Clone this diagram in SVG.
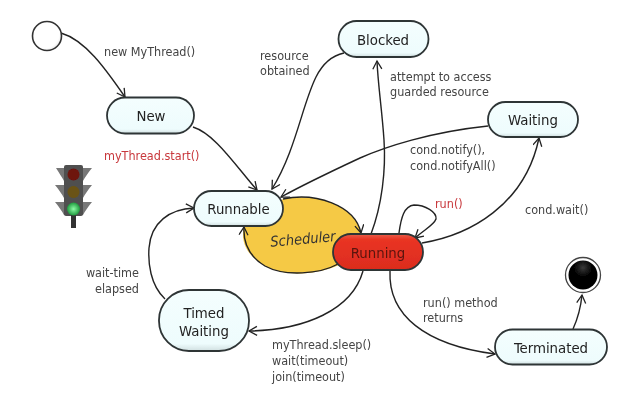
<svg xmlns="http://www.w3.org/2000/svg" width="636" height="417" viewBox="0 0 636 417">
<defs>
<marker id="arr" markerWidth="12" markerHeight="12" refX="9" refY="5" orient="auto" markerUnits="userSpaceOnUse"><path d="M1 0.5L9 5L1 9.5" fill="none" stroke="#222" stroke-width="1.3"/></marker>
<linearGradient id="node" x1="0" y1="0" x2="0" y2="1"><stop offset="0" stop-color="#f4fefe"/><stop offset="0.88" stop-color="#eefcfd"/><stop offset="1" stop-color="#d0dfe0"/></linearGradient>
<linearGradient id="red" x1="0" y1="0" x2="0" y2="1"><stop offset="0" stop-color="#e8604a"/><stop offset="0.15" stop-color="#e93424"/><stop offset="1" stop-color="#dc2c1e"/></linearGradient>
<radialGradient id="start" cx="0.4" cy="0.4" r="0.7"><stop offset="0.75" stop-color="#fff"/><stop offset="1" stop-color="#ddd"/></radialGradient>
<radialGradient id="black" cx="0.5" cy="0.25" r="0.6"><stop offset="0" stop-color="#3a3a3a"/><stop offset="0.5" stop-color="#050505"/><stop offset="1" stop-color="#000"/></radialGradient>
<radialGradient id="green" cx="0.5" cy="0.5" r="0.5"><stop offset="0" stop-color="#8dfca6"/><stop offset="1" stop-color="#1f9a3e"/></radialGradient>
<filter id="soft" x="-5%" y="-5%" width="110%" height="110%"><feGaussianBlur stdDeviation="0.45"/></filter>
</defs>
<style>
.n{fill:url(#node);stroke:#2e3436;stroke-width:1.8}
.c{fill:none;stroke:#222;stroke-width:1.4;marker-end:url(#arr)}
text{font-family:"DejaVu Sans",Verdana,sans-serif;font-stretch:condensed;font-size:12.5px;fill:#444}
.t{font-size:14.8px;fill:#222;text-anchor:middle}
.r{fill:#c8383c}
</style>
<rect width="636" height="417" fill="#fff"/>
<g filter="url(#soft)">
<g id="scheduler">
<path d="M283 199C315 192 355 205 361 233L345 262C320 276 285 277 265 266C248 256 240 243 244 227Z" fill="#f5c945"/>
<path class="c" d="M283 199C315 192 355 205 361 233"/>
<path class="c" d="M338 264C320 274 285 277 265 266C250 257 243 243 244 227"/>
<text x="303" y="244" transform="rotate(-5 303 240)" style="font-style:italic;font-size:14.5px;fill:#333" text-anchor="middle">Scheduler</text>
</g>
<g id="connectors">
<path class="c" d="M61 33C85 40 105 68 125 97"/>
<path class="c" d="M193 127C215 134 235 165 257 190"/>
<path class="c" d="M344 53C330 56 322 65 316 77C302 105 296 150 272 189"/>
<path class="c" d="M488 126C430 132 385 147 360 158C330 172 305 184 281 197"/>
<path class="c" d="M371 234C382 205 386 170 384 140C382 110 378 85 377 61"/>
<path class="c" d="M422 243C470 235 525 205 539 138"/>
<path class="c" d="M399 233C401 218 404 206 414 205C425 205 437 212 436 219C434 225 424 230 415 238"/>
<path class="c" d="M165 299C150 285 148 262 149 248C151 222 170 209 194 208"/>
<path class="c" d="M363 271C352 310 305 330 249 331"/>
<path class="c" d="M390 271C388 315 425 345 495 354"/>
<path class="c" d="M573 329C578 318 581 305 582 295"/>
</g>
<g id="start"><circle cx="47" cy="36" r="14.5" fill="url(#start)" stroke="#333" stroke-width="1.6"/></g>
<g id="new"><rect class="n" x="107" y="97.500" width="87" height="36" rx="18"/><text class="t" x="151" y="121">New</text></g>
<g id="blocked"><rect class="n" x="338.500" y="21" width="90" height="36" rx="18"/><text class="t" x="383" y="45">Blocked</text></g>
<g id="waiting"><rect class="n" x="488" y="102" width="90" height="35" rx="17.500"/><text class="t" x="533" y="125">Waiting</text></g>
<g id="runnable"><rect class="n" x="194" y="191" width="89" height="35" rx="17.500"/><text class="t" x="238.500" y="214">Runnable</text></g>
<g id="running"><rect x="333" y="234" width="90" height="36" rx="18" fill="url(#red)" stroke="#2e3436" stroke-width="1.8"/><text class="t" x="378" y="258" style="fill:#5a1410">Running</text></g>
<g id="timed"><rect class="n" x="159" y="290" width="90" height="61" rx="30"/><text class="t" x="204" y="318">Timed</text><text class="t" x="204" y="336">Waiting</text></g>
<g id="terminated"><rect class="n" x="495" y="329.500" width="112" height="35" rx="17.500"/><text class="t" x="551" y="353">Terminated</text></g>
<g id="end"><circle cx="583" cy="275" r="17.500" fill="#fff" stroke="#444" stroke-width="1.3"/><circle cx="583" cy="275" r="14.500" fill="url(#black)"/></g>
<g id="traffic-light">
<path d="M56 168L92 168C88 173 85 177 83 181L83 185L92 185C88 190 85 194 83 198L83 202L92 202C88 207 85 211 83 215L64 215C62 211 59 207 55 202L64 202L64 198C62 194 59 190 55 185L64 185L64 181C62 177 59 173 56 168Z" fill="#777"/>
<rect x="64" y="165" width="19" height="51" rx="2" fill="#505050"/>
<rect x="71" y="215" width="5" height="13" fill="#333"/>
<circle cx="73.500" cy="174.500" r="6" fill="#6e1210"/>
<circle cx="73.500" cy="192" r="6" fill="#6b5312"/>
<circle cx="73.500" cy="209" r="6.500" fill="url(#green)"/>
</g>
<g id="labels">
<text x="104" y="56">new MyThread()</text>
<text x="260" y="60">resource</text><text x="260" y="75">obtained</text>
<text class="r" x="104" y="160">myThread.start()</text>
<text x="390" y="81">attempt to access</text><text x="390" y="96">guarded resource</text>
<text x="410" y="154">cond.notify(),</text><text x="410" y="170">cond.notifyAll()</text>
<text class="r" x="435" y="208">run()</text>
<text x="525" y="214">cond.wait()</text>
<text x="139" y="277" text-anchor="end">wait-time</text><text x="139" y="293" text-anchor="end">elapsed</text>
<text x="272" y="349">myThread.sleep()</text><text x="272" y="365">wait(timeout)</text><text x="272" y="381">join(timeout)</text>
<text x="423" y="307">run() method</text><text x="423" y="322">returns</text>
</g>
</g>
</svg>
